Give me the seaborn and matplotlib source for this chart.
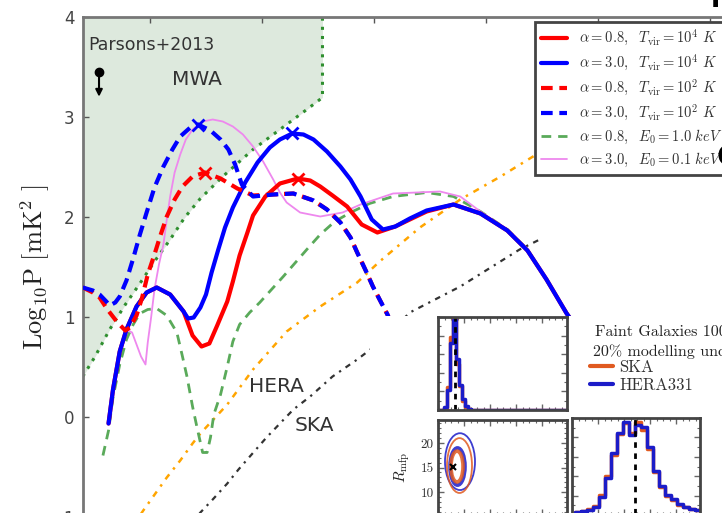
import numpy as np
import pandas as pd
import matplotlib
matplotlib.use("Agg")
import matplotlib.pyplot as plt
import seaborn as sns
from matplotlib.patches import Ellipse
from matplotlib.lines import Line2D
from matplotlib.ticker import MultipleLocator

sns.set_theme(style="white")
plt.rcParams["font.family"] = ["DejaVu Sans"]
plt.rcParams["mathtext.fontset"] = "cm"

# ---------------- main panel data (x = log k, y = log10 P) ----------------
red_solid_x = [-0.37, -0.33, -0.27, -0.21, -0.12, -0.03, 0.06, 0.18, 0.30, 0.38, 0.46, 0.53, 0.60, 0.69, 0.74, 0.80,
               0.87, 0.92, 1.03, 1.16, 1.32, 1.43, 1.52, 1.63, 1.76, 1.89, 2.03, 2.19, 2.32, 2.47, 2.71, 2.95, 3.19,
               3.37, 3.54, 3.72, 4.02]
red_solid_y = [-0.07, 0.27, 0.65, 0.87, 1.10, 1.24, 1.29, 1.22, 1.05, 0.81, 0.70, 0.73, 0.91, 1.15, 1.35, 1.61,
               1.84, 2.01, 2.20, 2.33, 2.38, 2.36, 2.30, 2.21, 2.10, 1.92, 1.84, 1.90, 1.97, 2.05, 2.12, 2.03, 1.86,
               1.66, 1.37, 1.03, 0.56]

blue_solid_x = [-0.37, -0.33, -0.27, -0.21, -0.12, -0.03, 0.06, 0.18, 0.30, 0.34, 0.39, 0.45, 0.50, 0.55, 0.61, 0.67,
                0.74, 0.85, 0.96, 1.07, 1.16, 1.27, 1.37, 1.46, 1.58, 1.70, 1.79, 1.88, 1.98, 2.08, 2.19, 2.32, 2.47,
                2.71, 2.95, 3.19, 3.37, 3.54, 3.72, 4.02]
blue_solid_y = [-0.07, 0.27, 0.65, 0.87, 1.10, 1.24, 1.29, 1.22, 1.05, 0.98, 0.99, 1.09, 1.22, 1.44, 1.67, 1.89,
                2.09, 2.34, 2.54, 2.69, 2.77, 2.83, 2.82, 2.77, 2.65, 2.50, 2.37, 2.20, 1.97, 1.87, 1.90, 1.98, 2.06,
                2.12, 2.03, 1.86, 1.66, 1.37, 1.03, 0.56]

red_dash_x = [-0.60, -0.51, -0.45, -0.38, -0.29, -0.22, -0.18, -0.12, -0.07, -0.02, 0.04, 0.09, 0.15, 0.22, 0.29,
              0.38, 0.49, 0.63, 0.78, 0.92, 1.10, 1.28, 1.46, 1.58, 1.70, 1.79, 1.85, 1.93, 1.99, 2.05, 2.12, 2.23]
red_dash_y = [1.29, 1.24, 1.19, 1.07, 0.94, 0.86, 0.89, 1.01, 1.19, 1.42, 1.62, 1.80, 2.00, 2.17, 2.30,
              2.40, 2.44, 2.38, 2.28, 2.21, 2.22, 2.23, 2.16, 2.07, 1.94, 1.79, 1.64, 1.45, 1.30, 1.17, 1.02, 0.72]

blue_dash_x = [-0.60, -0.51, -0.45, -0.39, -0.36, -0.31, -0.27, -0.21, -0.15, -0.09, -0.03, 0.04, 0.12, 0.20, 0.27,
               0.36, 0.43, 0.54, 0.63, 0.70, 0.76, 0.82, 0.92, 1.10, 1.28, 1.46, 1.58, 1.70, 1.79, 1.85, 1.93, 1.99,
               2.05, 2.12, 2.23]
blue_dash_y = [1.29, 1.26, 1.22, 1.15, 1.11, 1.14, 1.20, 1.36, 1.58, 1.82, 2.04, 2.29, 2.50, 2.67, 2.80,
               2.89, 2.92, 2.86, 2.77, 2.67, 2.52, 2.32, 2.20, 2.22, 2.23, 2.16, 2.07, 1.94, 1.79, 1.64, 1.45, 1.30,
               1.17, 1.02, 0.72]

green_dash_x = [-0.42, -0.37, -0.33, -0.27, -0.21, -0.15, -0.09, -0.02, 0.06, 0.15, 0.24, 0.29, 0.33, 0.38, 0.42,
                0.47, 0.51, 0.54, 0.57, 0.63, 0.69, 0.74, 0.80, 0.89, 0.98, 1.19, 1.40, 1.52, 1.65, 1.79, 1.96, 2.17,
                2.47, 2.71, 2.95, 3.19, 3.37, 3.72, 4.02]
green_dash_y = [-0.39, -0.14, 0.19, 0.52, 0.77, 0.92, 1.03, 1.07, 1.08, 1.01, 0.84, 0.60, 0.40, 0.10, -0.11,
                -0.36, -0.36, -0.21, 0.02, 0.22, 0.50, 0.75, 0.92, 1.04, 1.14, 1.40, 1.67, 1.82, 1.95, 2.04, 2.13,
                2.20, 2.24, 2.20, 2.05, 1.87, 1.67, 1.04, 0.56]

pink_x = [-0.37, -0.33, -0.27, -0.21, -0.16, -0.12, -0.08, -0.04, -0.02, 0.01, 0.04, 0.08, 0.12, 0.15, 0.18, 0.22,
          0.27, 0.32, 0.38, 0.47, 0.56, 0.65, 0.74, 0.83, 0.92, 1.01, 1.10, 1.16, 1.22, 1.34, 1.52, 1.72, 1.88,
          2.17, 2.59, 2.77, 2.95, 3.19, 3.37, 3.72, 4.02]
pink_y = [-0.07, 0.27, 0.65, 0.87, 0.84, 0.72, 0.60, 0.52, 0.74, 0.99, 1.27, 1.52, 1.72, 1.97, 2.20, 2.44,
          2.62, 2.77, 2.87, 2.95, 2.97, 2.95, 2.90, 2.82, 2.70, 2.55, 2.37, 2.24, 2.14, 2.04, 2.00, 2.04, 2.12,
          2.23, 2.25, 2.20, 2.05, 1.87, 1.67, 1.04, 0.56]

mwa_x = [-0.60, -0.49, -0.36, -0.22, -0.09, 0.04, 0.18, 0.31, 0.45, 0.65, 0.92, 1.16, 1.40, 1.54, 1.54]
mwa_y = [0.40, 0.60, 0.87, 1.12, 1.33, 1.55, 1.77, 1.99, 2.18, 2.40, 2.67, 2.87, 3.07, 3.19, 4.00]

hera_x = [-0.18, -0.06, 0.15, 0.27, 0.38, 0.45, 0.69, 0.92, 1.22, 1.52, 1.85, 2.05, 2.41, 2.77, 3.13, 3.42, 3.75]
hera_y = [-1.14, -0.94, -0.61, -0.44, -0.27, -0.17, 0.12, 0.47, 0.85, 1.10, 1.34, 1.55, 1.89, 2.17, 2.40, 2.60, 2.80]

ska_x = [0.36, 0.45, 0.56, 0.69, 0.79, 1.04, 1.28, 1.43, 1.63, 1.85, 2.05, 2.32, 2.77, 3.30, 3.48]
ska_y = [-1.09, -0.96, -0.83, -0.67, -0.53, -0.21, 0.07, 0.20, 0.40, 0.57, 0.74, 1.04, 1.30, 1.67, 1.77]

peak_red_x, peak_red_y = [0.49, 1.32], [2.44, 2.38]
peak_blue_x, peak_blue_y = [0.43, 1.27], [2.92, 2.84]

parsons_x, parsons_y, parsons_limit = -0.455, 3.445, 3.17

legend_labels = [r"$\alpha=0.8,\ \ T_{\rm vir}=10^4\ K$",
                 r"$\alpha=3.0,\ \ T_{\rm vir}=10^4\ K$",
                 r"$\alpha=0.8,\ \ T_{\rm vir}=10^2\ K$",
                 r"$\alpha=3.0,\ \ T_{\rm vir}=10^2\ K$",
                 r"$\alpha=0.8,\ \ E_0=1.0\ keV$",
                 r"$\alpha=3.0,\ \ E_0=0.1\ keV$"]
yticks_main = [-1, 0, 1, 2, 3, 4]
xticks_main = [0, 1, 2, 3, 4, 5]

# ---------------- inset (corner plot) data ----------------
top_edges = [0, 6, 9, 12, 15, 18, 21, 24, 27, 30, 33, 129]
top_hera = [0, 0.03, 0.22, 0.72, 0.97, 0.55, 0.27, 0.12, 0.04, 0.01, 0.0]
top_ska = [0, 0.02, 0.25, 0.78, 1.00, 0.50, 0.26, 0.10, 0.03, 0.01, 0.0]
top_truth = 17

br_edges = [0, 3, 9, 15, 21, 27, 33, 39, 45, 51, 57, 63, 69, 75, 81, 87, 93, 99, 105, 111, 117, 123, 128]
br_hera = [0.0, 0.03, 0.04, 0.05, 0.08, 0.19, 0.38, 0.64, 0.85, 0.96, 0.82, 0.93, 0.91, 0.70, 0.45, 0.30, 0.21,
           0.16, 0.11, 0.08, 0.06, 0.05]
br_ska = [0.0, 0.03, 0.04, 0.06, 0.09, 0.21, 0.40, 0.62, 0.83, 0.95, 0.85, 0.96, 0.88, 0.68, 0.44, 0.29, 0.20,
          0.15, 0.10, 0.08, 0.06, 0.05]
br_truth = 63

ell_cx = [22.0, 21.5, 19.5, 19.0]
ell_cy = [16.2, 15.4, 15.2, 15.2]
ell_w = [30, 25, 15, 12]
ell_h = [11.6, 11.2, 7.6, 6.3]
ell_who = ["HERA331", "SKA", "HERA331", "SKA"]
ell_lw = [1.3, 1.3, 2.6, 2.6]
contour_truth = (15, 15.1)
rmfp_ticks = [10, 15, 20]
inset_labels = ["SKA", "HERA331"]

# ---------------- colours ----------------
RED, BLUE = "#ff0000", "#0000ff"
GREEN_DASH = "#5aaa5a"
GREEN_DOT = "#2f8f2f"
PINK = "#ee88ee"
ORANGE = "#ffa500"
DARK = "#333333"
SKA_C, HERA_C = "#e05a20", "#1c1cc8"

W, H = 722, 513
fig = plt.figure(figsize=(W / 100, H / 100), dpi=100)


def fx(px):
    return px / W


def fy(py):
    return 1 - py / H


ax = fig.add_axes([fx(83), fy(516.5), (760 - 83) / W, 500 / H])
ax.set_facecolor("white")
ax.set_xlim(-0.598, 5.446)
ax.set_ylim(-1, 4)


def line(x, y, z, **kw):
    sns.lineplot(x=x, y=y, sort=False, estimator=None, ax=ax, legend=False, zorder=z, **kw)


ax.fill_between(mwa_x, mwa_y, 4, color="#dde9dd", lw=0, zorder=0.5)
line(mwa_x, mwa_y, 1, color=GREEN_DOT, lw=2.2, linestyle=(0, (1, 2)))
line(hera_x, hera_y, 1, color=ORANGE, lw=1.8, linestyle=(0, (2.5, 2.5, 1, 2.5)))
line(ska_x, ska_y, 1, color=DARK, lw=1.6, linestyle=(0, (2.5, 2.5, 1, 2.5)))
line(green_dash_x, green_dash_y, 2, color=GREEN_DASH, lw=2, linestyle=(0, (3.5, 2.5)))
line(pink_x, pink_y, 2.2, color=PINK, lw=1.3)
line(red_solid_x, red_solid_y, 3, color=RED, lw=3)
line(blue_solid_x, blue_solid_y, 3.1, color=BLUE, lw=3)
line(red_dash_x, red_dash_y, 3.2, color=RED, lw=3, linestyle=(0, (2.8, 1.6)))
line(blue_dash_x, blue_dash_y, 3.3, color=BLUE, lw=3, linestyle=(0, (2.8, 1.6)))
ax.plot(peak_red_x, peak_red_y, "x", color=RED, ms=9, mew=2, zorder=4)
ax.plot(peak_blue_x, peak_blue_y, "x", color=BLUE, ms=9, mew=2, zorder=4)

ax.plot([parsons_x], [parsons_y], "o", color="black", ms=6, zorder=5)
ax.annotate("", xy=(parsons_x, parsons_limit), xytext=(parsons_x, parsons_y),
            arrowprops=dict(arrowstyle="-|>", color="black", lw=1.5, mutation_scale=10), zorder=5)

ax.text(-0.55, 3.72, "Parsons+2013", fontsize=12.5, color="#333", ha="left", va="center")
ax.text(0.42, 3.37, "MWA", fontsize=14.5, color="#333", ha="center", va="center")
ax.text(1.13, 0.30, "HERA", fontsize=14.5, color="#333", ha="center", va="center")
ax.text(1.47, -0.09, "SKA", fontsize=14.5, color="#333", ha="center", va="center")

ax.set_yticks(yticks_main)
ax.set_xticks(xticks_main)
ax.tick_params(axis="y", direction="in", left=True, right=False, length=4, width=1, color="#555",
               labelsize=12, labelcolor="#444", pad=6)
ax.tick_params(axis="x", direction="in", top=True, bottom=False, labeltop=False, labelbottom=False,
               length=4, width=1, color="#555")
for s in ["left", "top"]:
    ax.spines[s].set_color("#777")
    ax.spines[s].set_linewidth(2)
for s in ["right", "bottom"]:
    ax.spines[s].set_visible(False)
ax.grid(False)

fig.text(fx(35), fy(267), r"$\mathrm{Log_{10}P\ [mK^2\ ]}$", rotation=90, fontsize=19,
         ha="center", va="center", color="#222")

handles = [Line2D([], [], color=RED, lw=3),
           Line2D([], [], color=BLUE, lw=3),
           Line2D([], [], color=RED, lw=3, linestyle=(0, (2.8, 1.6))),
           Line2D([], [], color=BLUE, lw=3, linestyle=(0, (2.8, 1.6))),
           Line2D([], [], color=GREEN_DASH, lw=2, linestyle=(0, (3.5, 2.5))),
           Line2D([], [], color=PINK, lw=1.3)]
leg = ax.legend(handles, legend_labels, loc="upper left", bbox_to_anchor=(fx(535), fy(22)),
                bbox_transform=fig.transFigure, borderaxespad=0, fancybox=False, framealpha=1,
                edgecolor="#444", fontsize=10.5, labelspacing=0.34, handlelength=1.8,
                handletextpad=0.8, borderpad=0.42, frameon=True)
leg.get_frame().set_linewidth(2)
leg.set_zorder(10)
for t in leg.get_texts():
    t.set_color("#333")

# ---------------- inset ----------------
bg = fig.add_axes([fx(370), 0, (W - 370) / W, fy(316)])
bg.set_facecolor("white")
bg.set_xticks([])
bg.set_yticks([])
for s in bg.spines.values():
    s.set_visible(False)

a1 = fig.add_axes([fx(438), fy(410), 129 / W, 93 / H])
a2 = fig.add_axes([fx(438), fy(515), 129 / W, 95 / H])
a3 = fig.add_axes([fx(572), fy(515), 128 / W, 97 / H])


def centers(edges):
    e = np.asarray(edges, float)
    return (e[:-1] + e[1:]) / 2


sns.histplot(x=centers(top_edges), weights=top_ska, bins=top_edges, element="step", fill=False,
             color=SKA_C, lw=2.5, ax=a1)
sns.histplot(x=centers(top_edges), weights=top_hera, bins=top_edges, element="step", fill=False,
             color=HERA_C, lw=2.5, ax=a1)
a1.axvline(top_truth, color="black", lw=2, ls=(0, (2, 2)))
a1.set_xlim(0, 129)
a1.set_ylim(0, 1.0)

sns.histplot(x=centers(br_edges), weights=br_ska, bins=br_edges, element="step", fill=False,
             color=SKA_C, lw=2.5, ax=a3)
sns.histplot(x=centers(br_edges), weights=br_hera, bins=br_edges, element="step", fill=False,
             color=HERA_C, lw=2.5, ax=a3)
a3.axvline(br_truth, color="black", lw=2, ls=(0, (2, 2)))
a3.set_xlim(0, 128)
a3.set_ylim(0, 1.0)

for cx, cy, w, h, who, lw in zip(ell_cx, ell_cy, ell_w, ell_h, ell_who, ell_lw):
    col = HERA_C if who == "HERA331" else SKA_C
    a2.add_patch(Ellipse((cx, cy), w, h, fill=False, edgecolor=col, lw=lw, alpha=0.85))
a2.plot([contour_truth[0]], [contour_truth[1]], "x", color="black", ms=5, mew=1.5)
a2.set_xlim(0, 129)
a2.set_ylim(5.3, 24.7)
a2.set_yticks(rmfp_ticks)
a2.set_yticklabels([str(t) for t in rmfp_ticks], fontfamily="cmr10", fontsize=9.5, color="#333")

for a in (a1, a2, a3):
    a.set_xlabel("")
    a.set_ylabel("")
    a.set_facecolor("white")
    a.xaxis.set_minor_locator(MultipleLocator(6.5))
    a.xaxis.set_major_locator(MultipleLocator(26))
    a.tick_params(which="both", direction="in", top=True, right=True, bottom=True, left=True,
                  labelbottom=False, color="#666")
    a.tick_params(which="major", length=4, width=1)
    a.tick_params(which="minor", length=2, width=0.8)
    for s in a.spines.values():
        s.set_color("#444")
        s.set_linewidth(2)
a1.yaxis.set_major_locator(MultipleLocator(0.2))
a1.yaxis.set_minor_locator(MultipleLocator(0.1))
a3.yaxis.set_major_locator(MultipleLocator(0.2))
a3.yaxis.set_minor_locator(MultipleLocator(0.1))
a2.yaxis.set_minor_locator(MultipleLocator(1))
a1.tick_params(labelleft=False)
a3.tick_params(labelleft=False)
a2.tick_params(axis="y", labelleft=True, pad=3)

fig.text(fx(402), fy(467), r"$R_{\rm mfp}$", rotation=90, fontsize=11, ha="center", va="center", color="#222")
fig.text(fx(595), fy(332), "Faint Galaxies 1000h", family="cmr10", fontsize=11.5, ha="left", va="center",
         color="#222")
fig.text(fx(593), fy(352), "20% modelling uncertainty", family="cmr10", fontsize=11.5, ha="left",
         va="center", color="#222")
fig.legend([Line2D([], [], color=SKA_C, lw=3), Line2D([], [], color=HERA_C, lw=3)], inset_labels,
           loc="upper left", bbox_to_anchor=(fx(590), fy(360)), frameon=False,
           prop={"family": "cmr10", "size": 12}, handlelength=1.4, handletextpad=0.35,
           labelspacing=0.15, borderpad=0, borderaxespad=0, labelcolor="#333")

# cropped glyphs of neighbouring content at the right edge
fig.text(fx(716), fy(157), "C", fontsize=22, fontweight="bold", ha="left", va="center", color="black")
fig.text(fx(711), fy(0), "I", fontsize=18, fontweight="bold", ha="left", va="center", color="black")

fig.savefig("out.png", dpi=100)
